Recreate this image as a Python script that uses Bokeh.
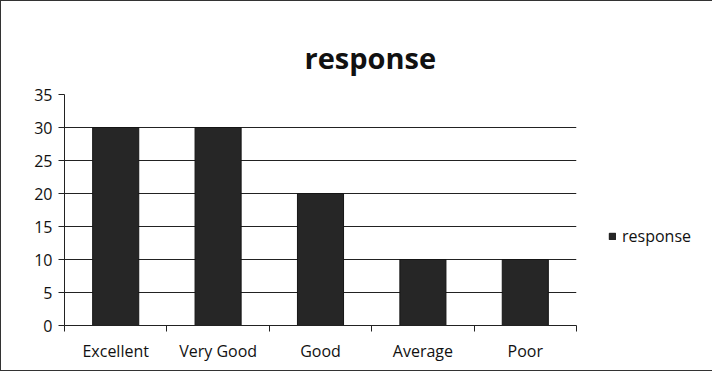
from bokeh.plotting import figure
from bokeh.models import FixedTicker, Legend, LegendItem, ColumnDataSource, Range1d
from bokeh.embed import file_html
from bokeh.resources import INLINE

categories = ["Excellent", "Very Good", "Good", "Average", "Poor"]
response = [30, 30, 20, 10, 10]
y_ticks = [0, 5, 10, 15, 20, 25, 30, 35]

centers = [i + 0.5 for i in range(len(categories))]
bounds = [i for i in range(len(categories) + 1)]

src = ColumnDataSource(dict(x=centers, top=response, cat=categories))

FONT = "Open Sans"
p = figure(frame_width=512, frame_height=231, output_backend="svg", toolbar_location=None,
           x_range=Range1d(0, len(categories)), y_range=Range1d(0, 35),
           min_border_left=63, min_border_right=121, min_border_bottom=45, min_border_top=93)
p.styles = {"border": "1px solid #333"}

r = p.vbar(x="x", top="top", width=0.45, source=src, fill_color="#262626", line_color="#151515")

p.title.text = "response"
p.title.text_font = FONT
p.title.text_font_size = "29px"
p.title.text_font_style = "bold"
p.title.text_color = "#111111"
p.title.align = "left"
p.title.offset = 240
p.title.standoff = 36

p.xaxis.ticker = FixedTicker(ticks=centers, minor_ticks=bounds)
p.xaxis.major_label_overrides = {c: cat for c, cat in zip(centers, categories)}
p.xaxis.major_tick_out = 0
p.xaxis.major_tick_in = 0
p.xaxis.minor_tick_out = 6
p.xaxis.minor_tick_in = 0
p.xaxis.minor_tick_line_color = "#222222"
p.xaxis.major_label_standoff = 8
p.xaxis.major_label_text_font = FONT
p.xaxis.major_label_text_font_size = "16px"
p.xaxis.major_label_text_color = "#111111"
p.xaxis.axis_line_color = "#222222"

p.yaxis.ticker = FixedTicker(ticks=y_ticks)
p.yaxis.major_tick_out = 6
p.yaxis.major_tick_in = 0
p.yaxis.minor_tick_line_color = None
p.yaxis.major_label_standoff = 6
p.yaxis.major_label_text_font = FONT
p.yaxis.major_label_text_font_size = "16px"
p.yaxis.major_label_text_color = "#111111"
p.yaxis.axis_line_color = "#222222"
p.yaxis.major_tick_line_color = "#222222"

p.xgrid.grid_line_color = None
p.ygrid.grid_line_color = "#222222"
p.ygrid.grid_line_alpha = 1.0
p.outline_line_color = None

legend = Legend(items=[LegendItem(label="response", renderers=[r])], location=(32, 78),
                label_text_font=FONT, label_text_font_size="16px", label_text_color="#111111",
                glyph_width=8, glyph_height=8, border_line_color=None,
                background_fill_alpha=0, margin=0, padding=4, label_standoff=6)
p.add_layout(legend, "right")

open("out.html", "w").write(file_html(p, INLINE))
